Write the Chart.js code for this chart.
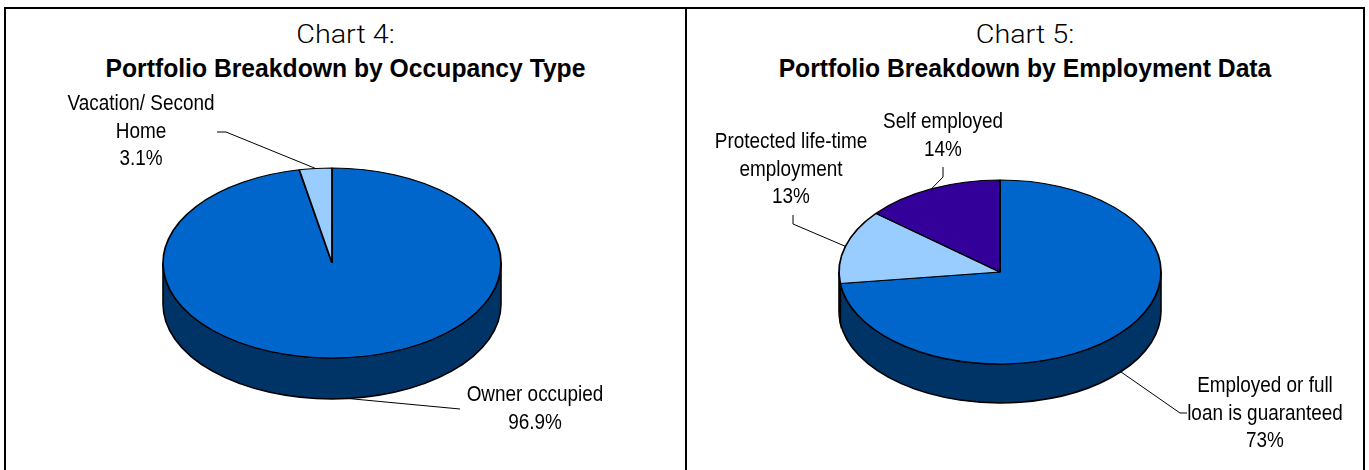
<!DOCTYPE html>
<html>
<head>
<meta charset="utf-8">
<script src="https://cdn.jsdelivr.net/npm/chart.js@4.4.1/dist/chart.umd.min.js"></script>
<style>
  body { margin: 0; background: #fff; width: 1369px; height: 470px; overflow: hidden; position: relative; }
  .line { position: absolute; background: #000; }
  canvas { position: absolute; top: 0; }
  .ttl { position: absolute; text-align: center; color: #000; white-space: nowrap; }
  .ttl div { transform-origin: 50% 50%; }
  .ttl .a { font-family: Roboto, "Liberation Sans", sans-serif; font-weight: 300; font-size: 25px; line-height: 30px; transform: scaleX(1.15); }
  .ttl .b { font-family: "Liberation Sans", sans-serif; font-weight: bold; font-size: 26px; line-height: 36px; transform: scaleX(0.95); }
</style>
</head>
<body>
<div class="line" style="left:4px;top:7px;width:1361px;height:2px"></div>
<div class="line" style="left:4px;top:7px;width:2px;height:470px"></div>
<div class="line" style="left:685px;top:7px;width:2px;height:470px"></div>
<div class="line" style="left:1363px;top:7px;width:2px;height:470px"></div>

<div class="ttl" style="left:6px;width:679px;top:20px"><div class="a">Chart 4:</div><div class="b">Portfolio Breakdown by Occupancy Type</div></div>
<div class="ttl" style="left:687px;width:676px;top:20px"><div class="a">Chart 5:</div><div class="b">Portfolio Breakdown by Employment Data</div></div>

<canvas id="occChart" style="left:0" width="685" height="470"></canvas>
<canvas id="empChart" style="left:685px" width="684" height="470"></canvas>

<script>
// Chart 4 data
var occLabels = [['Owner occupied'], ['Vacation/ Second', 'Home']];
var occValues = [96.9, 3.1];
// Chart 5 data
var empLabels = [['Employed or full', 'loan is guaranteed'], ['Protected life-time', 'employment'], ['Self employed']];
var empValues = [73, 13, 14];

var occColors = ['#0066CC', '#99CCFF'];
var occSide = ['#003366', '#4D6680'];
var empColors = ['#0066CC', '#99CCFF', '#330099'];
var empSide = ['#003366', '#003366', '#1A004D'];

var labelFont = '22px "Liberation Sans", Arial, sans-serif';

// squash the pie into an ellipse and add a side wall, then callout labels
var tiltPlugin = {
    id: 'tilt',
    beforeDatasetsDraw: function(chart, args, opts) {
        var arcs = chart.getDatasetMeta(0).data;
        if (!arcs.length) return;
        var ctx = chart.ctx;
        var cx = arcs[0].x, cy = arcs[0].y, r = arcs[0].outerRadius;
        var ry = r * opts.ratio, d = opts.depth;
        ctx.save();
        ctx.lineWidth = 1.6;
        ctx.strokeStyle = '#000';
        arcs.forEach(function(arc, i) {
            var lo = Math.max(arc.startAngle, 0), hi = Math.min(arc.endAngle, Math.PI);
            if (hi <= lo) return;
            ctx.beginPath();
            ctx.ellipse(cx, cy, r, ry, 0, lo, hi, false);
            ctx.lineTo(cx + r * Math.cos(hi), cy + ry * Math.sin(hi) + d);
            ctx.ellipse(cx, cy + d, r, ry, 0, hi, lo, true);
            ctx.closePath();
            ctx.fillStyle = opts.sideColors[i];
            ctx.fill();
            ctx.stroke();
        });
        ctx.restore();
        ctx.save();
        ctx.translate(cx, cy);
        ctx.scale(1, opts.ratio);
        ctx.translate(-cx, -cy);
    },
    afterDatasetsDraw: function(chart, args, opts) {
        chart.ctx.restore();
        var arcs = chart.getDatasetMeta(0).data;
        var ctx = chart.ctx;
        var cx = arcs[0].x, cy = arcs[0].y, r = arcs[0].outerRadius;
        var ry = r * opts.ratio, d = opts.depth;
        var labels = chart.data.labels;
        var values = chart.data.datasets[0].data;
        ctx.save();
        ctx.font = labelFont;
        ctx.fillStyle = '#000';
        ctx.textAlign = 'center';
        ctx.textBaseline = 'middle';
        arcs.forEach(function(arc, i) {
            var m = (arc.startAngle + arc.endAngle) / 2;
            var x = cx + r * Math.cos(m);
            var y = cy + ry * Math.sin(m) + (Math.sin(m) > 0 ? d : 0);
            var c = opts.callouts[i];
            ctx.beginPath();
            ctx.moveTo(x, y);
            c.path.forEach(function(p) { ctx.lineTo(p[0], p[1]); });
            ctx.strokeStyle = '#000';
            ctx.lineWidth = 1;
            ctx.stroke();
            var lines = labels[i].concat([values[i].toFixed(opts.decimals) + '%']);
            lines.forEach(function(t, j) {
                ctx.save();
                ctx.translate(c.x, c.y + j * 27.5);
                ctx.scale(0.86, 1);
                ctx.fillText(t, 0, 0);
                ctx.restore();
            });
        });
        ctx.restore();
    }
};

function pieOptions(pad, tilt) {
    return {
        responsive: false,
        animation: false,
        events: [],
        layout: { padding: pad },
        plugins: { legend: { display: false }, tooltip: { enabled: false }, tilt: tilt }
    };
}

new Chart(document.getElementById('occChart'), {
    type: 'pie',
    data: {
        labels: occLabels,
        datasets: [{ data: occValues, backgroundColor: occColors, borderColor: '#000', borderWidth: 1.8, radius: 169 }]
    },
    options: pieOptions({ left: 157, right: 178, top: 88, bottom: 32 }, {
        ratio: 0.562, depth: 41, decimals: 1, sideColors: occSide,
        callouts: [
            { path: [[460, 409]], x: 535, y: 395 },
            { path: [[226, 132], [217, 132]], x: 141, y: 104 }
        ]
    }),
    plugins: [tiltPlugin]
});

new Chart(document.getElementById('empChart'), {
    type: 'pie',
    data: {
        labels: empLabels,
        datasets: [{ data: empValues, backgroundColor: empColors, borderColor: '#000', borderWidth: 1.8, radius: 161 }]
    },
    options: pieOptions({ left: 149, right: 203, top: 105, bottom: 31 }, {
        ratio: 0.571, depth: 39, decimals: 0, sideColors: empSide,
        callouts: [
            { path: [[495, 413], [502, 413]], x: 580, y: 386 },
            { path: [[108, 224], [108, 215]], x: 106, y: 142 },
            { path: [[258, 177], [258, 167]], x: 258, y: 122 }
        ]
    }),
    plugins: [tiltPlugin]
});
</script>
</body>
</html>
